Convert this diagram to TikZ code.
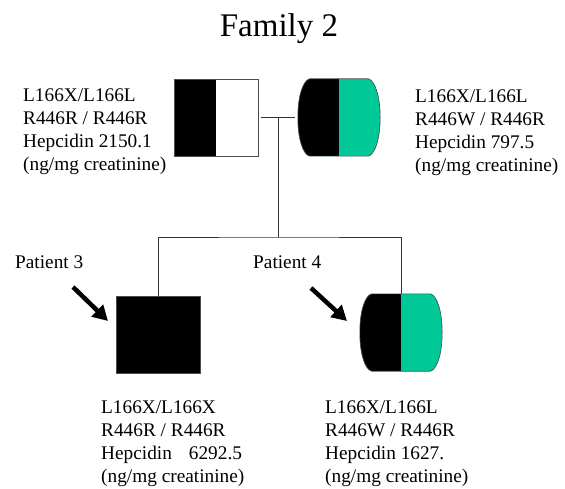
\documentclass[tikz,border=0pt]{standalone}
\usepackage{fontspec}
\setmainfont{Liberation Serif}
\usetikzlibrary{arrows.meta,calc}
\definecolor{carrier}{RGB}{0,201,151}

\tikzset{
	link/.style={draw=black!80, line width=0.8pt},
	male/.style={draw=black!70, line width=0.6pt, minimum width=84pt, minimum height=77pt, inner sep=0pt},
	female/.style={minimum width=82pt, minimum height=77pt, inner sep=0pt},
	halfblack/.style={path picture={\fill[black] (path picture bounding box.south west) rectangle (path picture bounding box.north);}},
	barrel/.style={insert path={($(#1.north west)+(12pt,0pt)$) -- ($(#1.north east)+(-12pt,0pt)$)
		.. controls ($(#1.north east)+(-5pt,-1.5pt)$) and ($(#1.north east)+(0pt,-18pt)$) .. (#1.east)
		.. controls ($(#1.south east)+(0pt,18pt)$) and ($(#1.south east)+(-5pt,1.5pt)$) .. ($(#1.south east)+(-12pt,0pt)$)
		-- ($(#1.south west)+(12pt,0pt)$)
		.. controls ($(#1.south west)+(5pt,1.5pt)$) and ($(#1.south west)+(0pt,18pt)$) .. (#1.west)
		.. controls ($(#1.north west)+(0pt,-18pt)$) and ($(#1.north west)+(5pt,-1.5pt)$) .. cycle}},
	info/.style={anchor=north west, align=left, inner sep=0pt, font=\fontsize{19.3}{23}\selectfont},
	pointer/.style={-{Triangle[width=16pt,length=15pt]}, line width=4.5pt},
}

\begin{document}
\begin{tikzpicture}[x=1pt, y=-1pt]
		\useasboundingbox (0,0) rectangle (565,489);
		\node[font=\fontsize{33}{40}\selectfont, anchor=base] (title) at (279,37) {Family 2};

		% parents
		\node[male, fill=white, halfblack] (father) at (216,117.5) {};
		\node[female] (mother) at (339,117.5) {};
		\fill[carrier, barrel=mother];
		\begin{scope}
			\clip[barrel=mother];
			\fill[black] (mother.north west) rectangle (mother.south);
		\end{scope}
		\draw[black!70, line width=0.6pt, barrel=mother];

		% children
		\node[male, fill=black] (p3) at (158,334.5) {};
		\node[female] (p4) at (401,332.5) {};
		\fill[carrier, barrel=p4];
		\begin{scope}
			\clip[barrel=p4];
			\fill[black] (p4.north west) rectangle (p4.south);
		\end{scope}
		\draw[black!70, line width=0.6pt, barrel=p4];

		% lines of descent
		\coordinate (mid) at ($(father.east)!0.5!(mother.west)$);
		\coordinate (sib) at (mid |- 0,237);
		\draw[link, shorten <=3pt, shorten >=3pt] (father.east) -- (mother.west);
		\draw[link] (mid) -- (sib);
		\draw[link] (p3.north) |- (sib) -| (p4.north);

		% probands
		\node[info] (lab3) at (15,256) {Patient 3};
		\node[info] (lab4) at (253,256) {Patient 4};
		\coordinate (from3) at (73,287);
		\coordinate (to3) at (108,321);
		\coordinate (from4) at (311,288);
		\coordinate (to4) at (347,321);
		\draw[pointer] (from3) -- (to3);
		\draw[pointer] (from4) -- (to4);

		% genotypes
		\node[info] (gfather) at (23,89) {L166X/L166L\\R446R / R446R\\Hepcidin 2150.1\\(ng/mg creatinine)};
		\node[info] (gmother) at (415,90) {L166X/L166L\\R446W / R446R\\Hepcidin 797.5\\(ng/mg creatinine)};
		\node[info] (gp3) at (101,401) {L166X/L166X\\R446R / R446R\\Hepcidin\hspace*{17pt}6292.5\\(ng/mg creatinine)};
		\node[info] (gp4) at (325,401) {L166X/L166L\\R446W / R446R\\Hepcidin 1627.\\(ng/mg creatinine)};
	\end{tikzpicture}
\end{document}
